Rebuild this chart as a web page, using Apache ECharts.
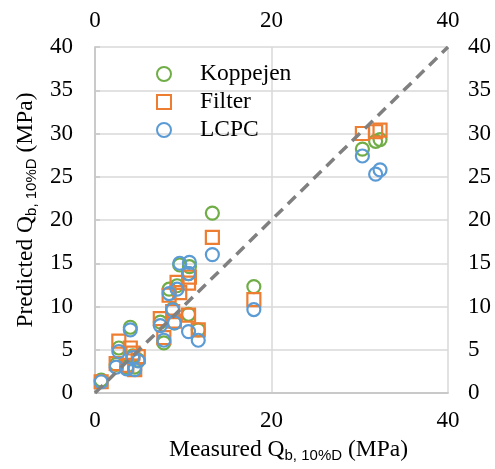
<!DOCTYPE html>
<html>
<head>
<meta charset="utf-8">
<script src="https://cdn.jsdelivr.net/npm/echarts@6/dist/echarts.min.js"></script>
<style>
    html, body { margin: 0; padding: 0; background: #fff; }
    #chart { width: 495px; height: 469px; }
</style>
</head>
<body>
<div id="chart"></div>
<script>
// measured values (MPa), shared by the three methods
var measured = [0.7, 2.4, 2.7, 3.6, 4.0, 4.3, 4.5, 4.9, 7.4, 7.8, 8.4, 8.8, 9.0, 9.3, 9.6, 10.6, 10.7, 10.6, 11.7, 13.3, 18.0, 30.3, 31.8, 32.3];
var koppejen = [1.5, 3.3, 5.2, 3.0, 7.6, 4.3, 3.0, 3.8, 8.2, 5.8, 12.0, 9.7, 8.1, 12.4, 14.8, 13.8, 14.6, 9.1, 7.3, 20.8, 12.3, 28.2, 29.1, 29.3];
var filter = [1.3, 3.4, 6.0, 3.2, 5.2, 4.6, 2.7, 4.2, 8.6, 6.4, 11.3, 9.4, 8.3, 12.8, 11.6, 12.7, 13.4, 9.0, 7.3, 18.0, 10.8, 30.0, 30.2, 30.4];
var lcpc = [1.3, 3.0, 4.8, 2.8, 7.3, 4.1, 2.7, 3.7, 7.8, 6.1, 11.5, 9.6, 8.1, 12.0, 15.0, 13.8, 15.1, 7.1, 6.1, 16.0, 9.65, 27.4, 25.3, 25.8];
var oneToOne = [0, 40];
var xTicks = [0, 20, 40];

var fontSerif = 'Liberation Serif';
var names = ['Koppejen', 'Filter', 'LCPC'];
var colors = ['#70AD47', '#ED7D31', '#5B9BD5'];
var symbols = ['circle', 'rect', 'circle'];
var values = [koppejen, filter, lcpc];

function pairs(xs, ys) {
    var out = [];
    for (var i = 0; i < xs.length; i++) {
        out.push([xs[i], ys[i]]);
    }
    return out;
}

var titleRich = {
    m: { fontFamily: fontSerif, fontSize: 23.5, color: '#000', lineHeight: 23, verticalAlign: 'top' },
    s: { fontFamily: 'Liberation Sans', fontSize: 15, color: '#000', lineHeight: 15, verticalAlign: 'top', padding: [10, 0, 0, 0] }
};

var series = [];
for (var k = 0; k < names.length; k++) {
    series.push({
        name: names[k],
        type: 'scatter',
        symbol: symbols[k],
        symbolSize: 13,
        itemStyle: { color: 'rgba(0,0,0,0)', borderColor: colors[k], borderWidth: 2.2, opacity: 1 },
        emphasis: { disabled: true },
        data: pairs(measured, values[k]),
        z: 2 + k
    });
}
series.push({
    name: '1:1',
    type: 'line',
    symbol: 'none',
    lineStyle: { color: '#808080', width: 3.5, type: [11, 7] },
    data: pairs(oneToOne, oneToOne),
    z: 10,
    silent: true
});

var chart = echarts.init(document.getElementById('chart'));
var option = {
    animation: false,
    backgroundColor: '#fff',
    grid: { left: 95, right: 47, top: 47, bottom: 76 },
    legend: {
        data: names,
        orient: 'vertical',
        left: 151,
        top: 57,
        itemWidth: 14,
        itemHeight: 14,
        itemGap: 4,
        textStyle: { fontFamily: fontSerif, fontSize: 23.5, color: '#000', padding: [0, 0, 0, 24] }
    },
    xAxis: [{
        type: 'value', position: 'bottom', min: 0, max: 40, interval: 20,
        name: '{m|Measured Q}{s|b, 10%D}{m| (MPa)}',
        nameLocation: 'middle', nameGap: 45,
        nameTextStyle: { padding: [0, 0, 0, 34], rich: titleRich },
        axisLine: { show: true, lineStyle: { color: '#C8C8C8', width: 1.5 } },
        axisTick: { show: false },
        axisLabel: { margin: 16, fontFamily: fontSerif, fontSize: 23, color: '#000',
            formatter: function (v) { return xTicks.indexOf(v) >= 0 ? String(v) : ''; } },
        splitLine: { show: true, lineStyle: { color: '#D9D9D9', width: 1.5 } }
    }, {
        type: 'value', position: 'top', min: 0, max: 40, interval: 20,
        axisLine: { show: true, lineStyle: { color: '#C8C8C8', width: 1.5 } },
        axisTick: { show: false },
        axisLabel: { margin: 15, fontFamily: fontSerif, fontSize: 23, color: '#000' },
        splitLine: { show: false }
    }],
    yAxis: [{
        type: 'value', position: 'left', min: 0, max: 40, interval: 5,
        name: '{m|Predicted Q}{s|b, 10%D}{m| (MPa)}',
        nameLocation: 'middle', nameGap: 57, nameRotate: 90,
        nameTextStyle: { padding: [0, 0, 0, 20], rich: titleRich },
        axisLine: { show: true, lineStyle: { color: '#C8C8C8', width: 1.5 } },
        axisTick: { show: false },
        axisLabel: { margin: 22, fontFamily: fontSerif, fontSize: 23, color: '#000' },
        splitLine: { show: true, lineStyle: { color: '#D9D9D9', width: 1.5 } }
    }, {
        type: 'value', position: 'right', min: 0, max: 40, interval: 5,
        axisLine: { show: true, lineStyle: { color: '#C8C8C8', width: 1.5 } },
        axisTick: { show: true, inside: false, length: 5, lineStyle: { color: '#C8C8C8', width: 1.5 } },
        axisLabel: { margin: 20, fontFamily: fontSerif, fontSize: 23, color: '#000' },
        splitLine: { show: false }
    }],
    series: series
};
chart.setOption(option);
</script>
</body>
</html>
